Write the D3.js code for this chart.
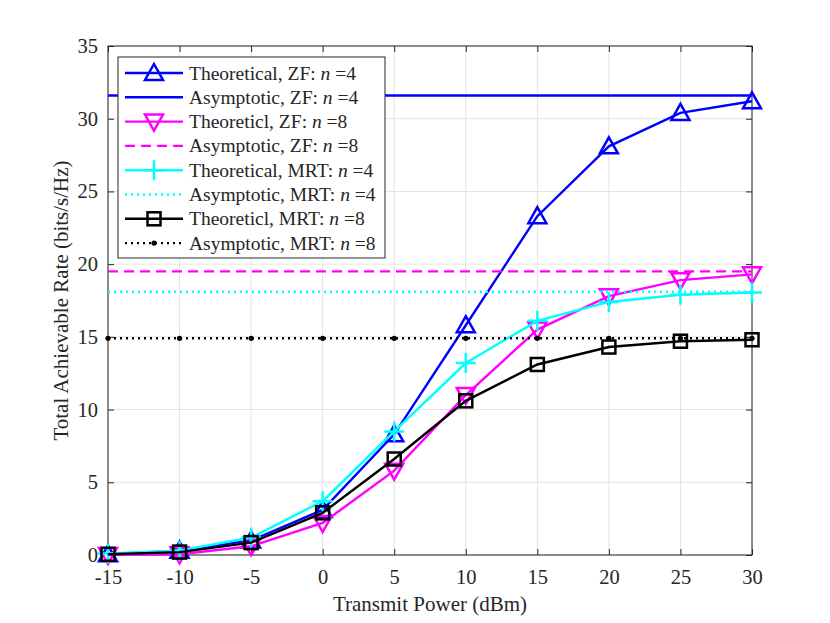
<!DOCTYPE html>
<html>
  <head>
    <meta charset="utf-8">
    <title>Total achievable rate</title>
    <script src="https://cdn.jsdelivr.net/npm/d3@7"></script>
    <style>
      body { margin: 0; background: #fff; }
      text { font-family: "Liberation Serif", "DejaVu Serif", serif; fill: #262626; }
    </style>
  </head>
  <body>
    <script>
      // data
      var power = [-15, -10, -5, 0, 5, 10, 15, 20, 25, 30];
      var zf4 = [0.05, 0.3, 1.0, 3.1, 8.3, 15.8, 23.3, 28.1, 30.4, 31.2];
      var zf8 = [0.0, 0.05, 0.6, 2.2, 5.8, 11.0, 15.5, 17.8, 18.9, 19.3];
      var mrt4 = [0.1, 0.3, 1.2, 3.7, 8.5, 13.2, 16.1, 17.4, 17.9, 18.05];
      var mrt8 = [0.05, 0.2, 0.85, 2.9, 6.6, 10.6, 13.1, 14.3, 14.7, 14.8];
      var asymZf4 = 31.6;
      var asymZf8 = 19.5;
      var asymMrt4 = 18.1;
      var asymMrt8 = 14.9;
      var xTicks = [-15, -10, -5, 0, 5, 10, 15, 20, 25, 30];
      var yTicks = [0, 5, 10, 15, 20, 25, 30, 35];
      var labels = ["Theoretical, ZF: ", "Asymptotic, ZF: ", "Theoreticl, ZF: ", "Asymptotic, ZF: ",
                    "Theoretical, MRT: ", "Asymptotic, MRT: ", "Theoreticl, MRT: ", "Asymptotic, MRT: "];
      var nVals = ["4", "4", "8", "8", "4", "4", "8", "8"];

      var w = 830, h = 623;
      var pLeft = 108, pRight = 752, pTop = 46, pBottom = 555;
      var axisCol = "#262626";

      var svg = d3.select("body").append("svg")
                  .attr("width", w)
                  .attr("height", h);

      var x = d3.scaleLinear().domain([-15, 30]).range([pLeft, pRight]);
      var y = d3.scaleLinear().domain([0, 35]).range([pBottom, pTop]);

      // grid
      svg.append("g").selectAll("line").data(xTicks).enter().append("line")
         .attr("x1", d => x(d)).attr("x2", d => x(d))
         .attr("y1", pTop).attr("y2", pBottom)
         .attr("stroke", "#e3e3e3").attr("stroke-width", 1);
      svg.append("g").selectAll("line").data(yTicks).enter().append("line")
         .attr("x1", pLeft).attr("x2", pRight)
         .attr("y1", d => y(d)).attr("y2", d => y(d))
         .attr("stroke", "#e3e3e3").attr("stroke-width", 1);

      // axes (ticks inside, box)
      function styleAxis(g) {
        g.select(".domain").remove();
        g.selectAll(".tick line").attr("stroke", axisCol);
        g.selectAll(".tick text").style("font-size", "20.5px").attr("fill", axisCol);
      }
      var fmt = d => String(d);
      svg.append("g").attr("transform", "translate(0," + pBottom + ")")
         .call(d3.axisBottom(x).tickValues(xTicks).tickFormat(fmt).tickSizeInner(-6).tickSizeOuter(0).tickPadding(14))
         .call(styleAxis);
      svg.append("g").attr("transform", "translate(0," + pTop + ")")
         .call(d3.axisTop(x).tickValues(xTicks).tickSizeInner(-6).tickSizeOuter(0).tickFormat(""))
         .call(styleAxis);
      svg.append("g").attr("transform", "translate(" + pLeft + ",0)")
         .call(d3.axisLeft(y).tickValues(yTicks).tickFormat(fmt).tickSizeInner(-6).tickSizeOuter(0).tickPadding(10))
         .call(styleAxis);
      svg.append("g").attr("transform", "translate(" + pRight + ",0)")
         .call(d3.axisRight(y).tickValues(yTicks).tickSizeInner(-6).tickSizeOuter(0).tickFormat(""))
         .call(styleAxis);
      svg.append("rect").attr("x", pLeft).attr("y", pTop)
         .attr("width", pRight - pLeft).attr("height", pBottom - pTop)
         .attr("fill", "none").attr("stroke", axisCol).attr("stroke-width", 1);

      // axis labels
      svg.append("text").attr("x", (pLeft + pRight) / 2).attr("y", 611)
         .attr("text-anchor", "middle").style("font-size", "21px")
         .text("Transmit Power (dBm)");
      svg.append("text")
         .attr("transform", "translate(68," + (pTop + pBottom) / 2 + ") rotate(-90)")
         .attr("text-anchor", "middle").style("font-size", "21px")
         .text("Total Achievable Rate (bits/s/Hz)");

      // marker shapes
      function drawMarker(g, kind, cx, cy, color) {
        if (kind == "up") {
          g.append("path").attr("d", "M" + cx + "," + (cy - 9) + "L" + (cx + 9) + "," + (cy + 7) + "L" + (cx - 9) + "," + (cy + 7) + "Z")
           .attr("fill", "none").attr("stroke", color).attr("stroke-width", 2.5);
        } else if (kind == "down") {
          g.append("path").attr("d", "M" + cx + "," + (cy + 9) + "L" + (cx + 9) + "," + (cy - 7) + "L" + (cx - 9) + "," + (cy - 7) + "Z")
           .attr("fill", "none").attr("stroke", color).attr("stroke-width", 2.5);
        } else if (kind == "plus") {
          g.append("path").attr("d", "M" + (cx - 10) + "," + cy + "H" + (cx + 10) + "M" + cx + "," + (cy - 10) + "V" + (cy + 10))
           .attr("fill", "none").attr("stroke", color).attr("stroke-width", 2.5);
        } else if (kind == "square") {
          g.append("rect").attr("x", cx - 6.5).attr("y", cy - 6.5).attr("width", 13).attr("height", 13)
           .attr("fill", "none").attr("stroke", color).attr("stroke-width", 2.5);
        } else if (kind == "dot") {
          g.append("circle").attr("cx", cx).attr("cy", cy).attr("r", 2.6).attr("fill", color);
        }
      }

      var series = [
        {vals: zf4, color: "#0000ff", dash: null, marker: "up"},
        {asym: asymZf4, color: "#0000ff", dash: null, marker: null},
        {vals: zf8, color: "#ff00ff", dash: null, marker: "down"},
        {asym: asymZf8, color: "#ff00ff", dash: "10,6", marker: null},
        {vals: mrt4, color: "#00ffff", dash: null, marker: "plus"},
        {asym: asymMrt4, color: "#00ffff", dash: "2,4", marker: null},
        {vals: mrt8, color: "#000000", dash: null, marker: "square"},
        {asym: asymMrt8, color: "#000000", dash: "2,4", marker: "dot"}
      ];

      var line = d3.line().x(d => x(d[0])).y(d => y(d[1]));
      var plot = svg.append("g");

      series.forEach(function(s) {
        var pts = s.vals ? power.map((p, i) => [p, s.vals[i]]) : power.map(p => [p, s.asym]);
        var g = plot.append("g");
        g.append("path").datum(pts).attr("d", line)
         .attr("fill", "none").attr("stroke", s.color).attr("stroke-width", 2.4)
         .attr("stroke-dasharray", s.dash);
        if (s.marker) {
          pts.forEach(function(p) { drawMarker(g, s.marker, x(p[0]), y(p[1]), s.color); });
        }
      });

      // legend
      var lg = svg.append("g");
      lg.append("rect").attr("x", 118).attr("y", 57).attr("width", 267).attr("height", 201)
        .attr("fill", "#fff").attr("stroke", axisCol).attr("stroke-width", 1);
      series.forEach(function(s, i) {
        var ly = 73 + i * 24.3;
        lg.append("line").attr("x1", 125).attr("x2", 183).attr("y1", ly).attr("y2", ly)
          .attr("stroke", s.color).attr("stroke-width", 2.4).attr("stroke-dasharray", s.dash);
        if (s.marker) drawMarker(lg, s.marker, 154, ly, s.color);
        var t = lg.append("text").attr("x", 189).attr("y", ly + 6.5).style("font-size", "19.5px");
        t.append("tspan").text(labels[i]);
        t.append("tspan").style("font-style", "italic").text("n");
        t.append("tspan").text(" =" + nVals[i]);
      });
    </script>
  </body>
</html>
